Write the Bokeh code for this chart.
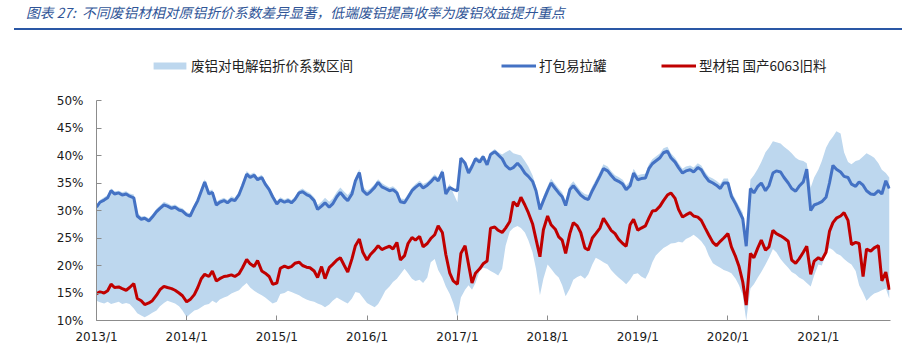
import pandas as pd
from bokeh.plotting import figure
from bokeh.layouts import column
from bokeh.models import (Range1d, FixedTicker, PrintfTickFormatter, CustomJSTickFormatter,
                          Legend, LegendItem, ColumnDataSource, Div)
from bokeh.embed import file_html
from bokeh.resources import INLINE

# ---------------- data (semi-monthly readings, %), 2013-01-01 .. 2021-10-15 ----------------
start_date = "2013-01-01"
n_points = 212

# 打包易拉罐
blue_vals = [
    30.6, 31.5, 31.9, 32.3, 33.6, 33.0, 33.2, 32.8, 33.0, 32.6, 32.3, 29.0, 28.4, 28.6, 28.1, 28.8, 29.8, 30.4, 31.0, 30.8, 30.4, 30.6, 30.1, 29.9,
    29.2, 29.0, 30.6, 31.8, 33.5, 35.2, 33.0, 33.3, 31.0, 31.5, 31.8, 31.4, 32.0, 31.8, 32.9, 34.5, 36.6, 36.0, 36.4, 35.6, 36.0, 34.8, 33.8, 32.5,
    31.2, 31.9, 31.5, 31.8, 31.4, 32.0, 33.2, 33.4, 32.9, 32.6, 31.8, 30.2, 30.8, 31.4, 30.6, 31.2, 32.5, 33.3, 32.4, 31.8, 33.0, 35.4, 36.9, 33.6,
    32.9, 33.4, 34.2, 35.1, 34.3, 34.0, 33.6, 33.8, 33.2, 31.6, 31.4, 32.4, 33.6, 34.2, 34.8, 34.1, 34.6, 35.2, 36.0, 35.4, 37.0, 33.0, 34.2, 33.8,
    33.6, 39.5, 38.6, 36.8, 38.0, 39.4, 38.8, 39.8, 38.3, 40.2, 40.7, 40.1, 39.4, 38.2, 37.5, 37.8, 38.6, 37.9, 36.8, 36.2, 35.3, 33.6, 30.2, 31.8,
    33.6, 35.0, 34.0, 33.2, 32.5, 30.9, 33.8, 34.5, 33.6, 32.8, 32.2, 32.0, 33.6, 34.8, 36.3, 37.6, 37.2, 36.4, 35.6, 35.3, 34.8, 33.8, 34.5, 36.8,
    35.6, 35.8, 35.9, 37.6, 38.5, 39.0, 39.6, 40.5, 40.8, 39.6, 38.8, 37.8, 36.8, 37.2, 37.4, 37.0, 37.8, 37.4, 36.2, 35.4, 35.0, 34.6, 34.0, 35.0,
    35.0, 32.6, 31.2, 29.9, 28.5, 23.5, 34.0, 33.2, 34.4, 35.0, 33.6, 34.5, 36.8, 37.2, 37.0, 36.0, 35.0, 34.0, 33.5, 34.4, 35.2, 37.5, 30.0, 31.0,
    31.3, 31.6, 32.4, 35.0, 38.2, 37.5, 37.0, 36.2, 36.0, 34.8, 34.4, 35.2, 34.6, 33.6, 33.0, 32.9, 33.6, 33.0, 35.4, 34.0,
]

# 型材铝 国产6063旧料
red_vals = [
    14.9, 15.2, 15.0, 15.4, 16.6, 16.0, 16.1, 15.8, 15.5, 16.0, 16.7, 14.0, 13.6, 12.9, 13.2, 13.6, 14.6, 15.6, 16.2, 16.0, 15.8, 15.5, 15.0, 14.5,
    13.4, 13.8, 14.7, 16.0, 17.6, 18.4, 18.0, 19.0, 17.2, 17.6, 18.0, 18.1, 18.3, 18.0, 18.5, 19.6, 21.1, 20.3, 19.8, 20.9, 19.0, 18.6, 18.0, 16.6,
    16.8, 19.5, 19.9, 19.6, 19.8, 20.4, 20.6, 20.0, 19.7, 19.6, 19.0, 17.8, 19.8, 17.6, 19.6, 20.2, 21.0, 21.4, 20.0, 18.8, 21.2, 23.6, 24.8, 22.4,
    21.0, 22.0, 22.8, 23.6, 22.9, 23.2, 23.5, 23.0, 24.2, 21.0, 21.8, 24.0, 25.1, 24.6, 25.3, 23.4, 24.0, 24.9, 25.6, 27.2, 26.0, 22.0, 18.6, 17.2,
    16.6, 22.2, 23.6, 20.2, 16.8, 18.6, 19.4, 20.3, 20.8, 26.8, 27.0, 26.4, 26.0, 26.8, 28.0, 31.6, 30.8, 32.4, 31.0, 29.6, 27.6, 24.8, 21.6, 26.5,
    29.0, 27.4, 26.6, 25.2, 24.6, 22.2, 25.8, 27.8, 27.2, 26.0, 23.2, 22.8, 25.0, 25.8, 26.8, 28.6, 27.4, 26.4, 25.8, 24.8, 24.0, 23.5, 27.4, 28.4,
    26.4, 26.8, 27.2, 28.6, 29.9, 30.0, 30.8, 31.8, 32.8, 33.2, 32.2, 30.2, 28.8, 29.2, 29.6, 29.0, 28.8, 28.2, 26.8, 25.6, 24.2, 23.6, 24.4, 25.0,
    25.8, 23.4, 21.6, 19.8, 17.0, 12.8, 22.2, 21.4, 23.2, 24.6, 22.8, 23.4, 26.4, 25.8, 25.4, 25.0, 24.4, 21.0, 20.4, 21.2, 22.4, 23.5, 18.4, 20.8,
    21.4, 21.0, 22.4, 26.2, 27.8, 28.6, 29.0, 29.6, 28.2, 23.8, 24.2, 24.0, 18.0, 23.0, 22.6, 23.2, 23.6, 17.2, 18.8, 15.6,
]

# 废铝对电解铝折价系数区间 (lower / upper bound)
band_low = [
    13.6, 13.3, 13.1, 13.4, 13.0, 13.2, 13.4, 13.0, 13.2, 13.0, 12.2, 11.3, 10.9, 10.6, 11.0, 11.4, 11.8, 12.6, 13.2, 13.6, 13.3, 13.1, 12.6, 11.8,
    10.6, 11.2, 11.8, 12.0, 12.4, 12.8, 13.0, 13.6, 13.2, 13.8, 14.2, 14.4, 14.9, 15.2, 15.5, 16.2, 16.8, 16.0, 15.4, 15.0, 14.6, 14.2, 13.6, 13.1,
    13.4, 14.8, 15.0, 15.4, 15.2, 14.9, 14.6, 14.2, 13.8, 13.6, 13.4, 13.1, 12.8, 12.4, 12.9, 13.6, 14.2, 13.8, 13.4, 13.1, 14.0, 15.2, 15.0, 14.2,
    13.2, 12.8, 12.4, 13.0, 14.2, 15.4, 16.2, 17.0, 17.6, 18.4, 19.4, 18.6, 17.6, 17.2, 17.4, 16.8, 17.8, 20.6, 21.2, 19.2, 17.8, 16.2, 14.8, 13.2,
    10.6, 14.2, 15.6, 16.4, 15.6, 16.8, 19.0, 19.6, 19.4, 19.0, 18.6, 18.2, 19.4, 23.6, 26.2, 26.8, 27.2, 26.8, 26.0, 24.6, 22.4, 19.4, 14.6, 17.6,
    20.2, 19.4, 18.4, 17.8, 16.4, 14.4, 15.8, 17.4, 17.9, 18.2, 17.6, 18.4, 20.2, 21.4, 21.0, 20.6, 20.2, 19.2, 18.4, 17.8, 17.2, 16.6, 17.4, 18.4,
    18.6, 18.0, 17.6, 18.8, 20.6, 21.8, 22.6, 23.2, 23.6, 24.0, 24.1, 24.3, 24.2, 24.8, 25.2, 25.6, 25.0, 24.4, 23.4, 21.8, 20.4, 20.0, 19.6, 19.2,
    18.9, 18.6, 17.6, 16.4, 14.6, 10.0, 15.8, 16.6, 17.8, 18.8, 20.2, 21.4, 23.0, 22.4, 21.2, 20.4, 19.6, 18.8, 18.4, 17.8, 17.4, 16.8, 16.2, 18.2,
    20.2, 20.0, 22.2, 23.2, 22.8, 22.2, 21.8, 21.2, 20.6, 20.2, 19.0, 16.4, 15.0, 13.6, 14.4, 14.9, 15.2, 15.5, 15.8, 14.0,
]
band_high = [
    31.0, 31.9, 32.4, 32.8, 34.0, 33.5, 33.6, 33.3, 33.5, 33.1, 32.9, 29.6, 28.9, 29.0, 28.6, 29.3, 30.3, 30.9, 31.6, 31.3, 30.9, 31.1, 30.6, 30.4,
    29.7, 29.5, 31.1, 32.3, 34.0, 35.7, 33.6, 33.8, 31.6, 32.0, 32.3, 31.9, 32.6, 32.3, 33.4, 35.1, 37.2, 36.6, 36.9, 36.1, 36.5, 35.3, 34.3, 33.0,
    31.7, 32.4, 32.0, 32.3, 31.9, 32.5, 33.7, 34.0, 33.5, 33.2, 32.4, 31.0, 31.6, 32.3, 31.6, 32.2, 33.4, 34.2, 33.4, 32.8, 33.8, 36.0, 37.5, 34.3,
    33.6, 34.0, 34.8, 35.7, 35.0, 34.6, 34.2, 34.4, 33.8, 32.2, 32.1, 33.0, 34.2, 34.8, 35.4, 34.8, 35.2, 35.8, 36.6, 36.0, 37.6, 33.8, 34.8, 33.2,
    31.5, 39.8, 39.0, 37.6, 38.6, 39.8, 39.4, 40.2, 39.0, 40.6, 41.2, 40.6, 40.2, 40.6, 41.0, 40.4, 40.2, 40.0, 39.0, 38.0, 36.4, 34.4, 30.8, 32.6,
    34.4, 35.8, 34.8, 34.0, 33.3, 31.8, 34.6, 35.3, 34.4, 33.6, 33.0, 32.8, 34.4, 35.6, 37.1, 38.4, 38.0, 37.2, 36.4, 36.1, 35.6, 34.6, 35.3, 37.6,
    36.4, 36.6, 36.7, 38.4, 39.3, 39.8, 40.4, 41.3, 41.6, 40.4, 39.6, 38.6, 37.6, 38.0, 38.2, 37.8, 38.6, 38.2, 37.0, 36.2, 35.8, 35.4, 34.8, 35.8,
    35.8, 33.4, 32.0, 30.8, 29.6, 24.6, 35.6, 36.4, 37.6, 38.8, 40.6, 41.4, 42.6, 42.4, 42.2, 41.6, 41.0, 40.4, 39.6, 39.2, 39.0, 38.6, 34.2, 36.0,
    37.4, 39.0, 41.4, 42.6, 43.4, 44.4, 44.0, 40.6, 38.8, 38.4, 39.0, 39.2, 39.8, 40.4, 40.0, 39.6, 38.6, 37.4, 36.8, 36.0,
]

x_tick_labels = ["2013/1", "2014/1", "2015/1", "2016/1", "2017/1", "2018/1", "2019/1", "2020/1", "2021/1"]
y_ticks = [10, 15, 20, 25, 30, 35, 40, 45, 50]

series_names = ["废铝对电解铝折价系数区间", "打包易拉罐", "型材铝 国产6063旧料"]
title_text = "图表 27:&nbsp; 不同废铝材相对原铝折价系数差异显著，低端废铝提高收率为废铝效益提升重点"

# ---------------- build ----------------
dates = pd.date_range(start_date, periods=n_points, freq="SMS")
source = ColumnDataSource(dict(date=dates, low=band_low, high=band_high, blue=blue_vals, red=red_vals))

tick_ms = [pd.Timestamp(int(s.split("/")[0]), int(s.split("/")[1]), 1).value / 1e6 for s in x_tick_labels]

CJK = "Noto Sans CJK SC"

# title block with its rule underneath
title_div = Div(
    text=(f'<div style="font-family:\'{CJK}\'; font-style:italic; font-size:13.8px; color:#2F5597; '
          f'line-height:19px; padding:3px 0 0 12px; height:30px; width:888px; box-sizing:border-box; '
          f'border-bottom:2px solid #2A57A5; white-space:nowrap;">{title_text}</div>'),
    width=888, height=30, margin=(0, 0, 0, 14))

# plot: frame spans from the legend row down to the x axis; y axis line bounded to 10%..50%
p = figure(width=898, height=320, x_axis_type="datetime", output_backend="svg", toolbar_location=None,
           x_range=Range1d(pd.Timestamp(start_date), pd.Timestamp("2021-10-20")),
           y_range=Range1d(10, 10 + 290 / 5.5),
           min_border_left=96, min_border_right=8, min_border_top=0, min_border_bottom=30)
p.outline_line_color = None
p.grid.grid_line_color = None
p.background_fill_color = "white"

band = p.varea(x="date", y1="low", y2="high", source=source, fill_color="#BDD7EE")
bl = p.line(x="date", y="blue", source=source, line_color="#4472C4", line_width=3)
rl = p.line(x="date", y="red", source=source, line_color="#C00000", line_width=3)

for ax in (p.xaxis[0], p.yaxis[0]):
    ax.axis_line_color = "#8C8C8C"
    ax.major_tick_line_color = "#8C8C8C"
    ax.major_tick_in = 5
    ax.major_tick_out = 0
    ax.minor_tick_line_color = None
    ax.major_label_text_font = "DejaVu Sans"
    ax.major_label_text_font_size = "12px"
    ax.major_label_text_color = "#1A1A1A"

p.xaxis.ticker = FixedTicker(ticks=tick_ms)
p.xaxis.formatter = CustomJSTickFormatter(args=dict(tick_vals=tick_ms, tick_labels=x_tick_labels), code="""
let best = 0;
for (let i = 0; i < tick_vals.length; i++) {
  if (Math.abs(tick_vals[i] - tick) < Math.abs(tick_vals[best] - tick)) best = i;
}
return tick_labels[best];
""")
p.xaxis.major_label_standoff = 9
p.yaxis.ticker = FixedTicker(ticks=y_ticks)
p.yaxis.formatter = PrintfTickFormatter(format="%d%%")
p.yaxis.major_label_standoff = 13
p.yaxis.bounds = (y_ticks[0], y_ticks[-1])

def make_legend(renderer, name, loc, gw, gh, standoff):
    lg = Legend(items=[LegendItem(label=name, renderers=[renderer])], location=loc,
                orientation="horizontal", border_line_color=None, background_fill_alpha=0,
                padding=0, margin=0, spacing=0, glyph_width=gw, glyph_height=gh,
                label_standoff=standoff, label_text_font=CJK, label_text_font_size="13.5px",
                label_text_color="#222222", label_height=14)
    p.add_layout(lg, "center")

make_legend(band, series_names[0], (53, 245), 41, 9, 1)
make_legend(bl, series_names[1], (405, 245), 35, 9, 3)
make_legend(rl, series_names[2], (565, 245), 35, 9, 3)

layout = column(title_div, p, spacing=0)
open("out.html", "w").write(file_html(layout, INLINE))
